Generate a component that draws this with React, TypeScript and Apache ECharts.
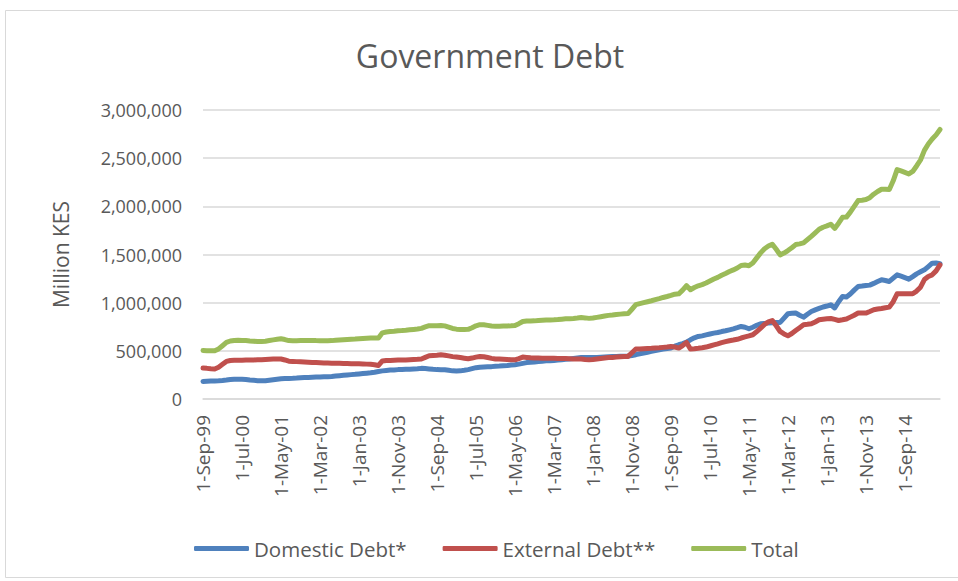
import React, { useEffect, useRef } from "react";
import * as echarts from "echarts";

// Monthly values, billions of KES (plotted in million KES), Sep-1999 .. Jun-2015
const domestic = [
  182, 184, 186, 188, 190, 193, 197, 202, 205, 206,
  205, 203, 198, 194, 190, 189, 190, 195, 200, 205,
  210, 212, 214, 215, 217, 220, 222, 224, 226, 228,
  228, 230, 232, 234, 238, 242, 246, 250, 253, 256,
  260, 264, 268, 272, 278, 286, 292, 296, 300, 302,
  305, 306, 308, 310, 312, 314, 318, 316, 312, 308,
  305, 304, 304, 298, 292, 290, 292, 298, 305, 315,
  325, 330, 332, 334, 336, 340, 342, 345, 348, 352,
  356, 362, 370, 378, 382, 385, 390, 393, 396, 398,
  400, 404, 408, 412, 415, 420, 425, 430, 432, 430,
  430, 432, 434, 436, 438, 440, 442, 443, 444, 445,
  452, 460, 470, 478, 486, 494, 502, 510, 518, 524,
  530, 548, 563, 575, 590, 615, 635, 649, 655, 665,
  675, 684, 690, 700, 708, 718, 728, 740, 753, 745,
  729, 745, 765, 781, 785, 788, 792, 794, 795, 840,
  885, 890, 892, 870, 850, 880, 908, 925, 940, 955,
  965, 978, 945, 1010, 1064, 1058, 1090, 1130, 1168, 1172,
  1178, 1182, 1200, 1220, 1237, 1230, 1220, 1255, 1289, 1275,
  1260, 1244, 1270, 1299, 1320, 1341, 1375, 1410, 1412, 1405,
];

const external = [
  321, 318, 314, 312, 330, 360, 390, 400, 402, 403,
  402, 404, 405, 406, 407, 408, 410, 412, 414, 415,
  415, 405, 392, 390, 388, 386, 384, 382, 380, 378,
  376, 374, 373, 372, 371, 370, 369, 368, 367, 366,
  365, 364, 362, 360, 356, 348, 395, 400, 400, 402,
  404, 405, 406, 408, 410, 412, 415, 432, 449, 452,
  455, 459, 455, 448, 440, 435, 430, 424, 418, 425,
  435, 442, 438, 430, 422, 415, 414, 412, 410, 408,
  407, 420, 435, 432, 428, 426, 425, 424, 423, 422,
  422, 421, 421, 420, 418, 416, 415, 415, 410, 407,
  410, 415, 420, 425, 430, 432, 435, 438, 440, 442,
  480, 519, 520, 522, 524, 526, 529, 532, 536, 540,
  545, 540, 529, 555, 587, 519, 522, 526, 532, 539,
  550, 562, 573, 585, 595, 605, 612, 620, 633, 645,
  655, 667, 700, 736, 775, 800, 815, 760, 701, 675,
  656, 680, 711, 740, 770, 775, 781, 800, 822, 828,
  832, 836, 826, 815, 822, 830, 850, 870, 892, 892,
  892, 908, 926, 934, 940, 948, 954, 1010, 1092, 1092,
  1092, 1092, 1092, 1120, 1161, 1240, 1272, 1289, 1330, 1393,
];

const total = [
  503, 502, 500, 500, 520, 553, 587, 602, 607, 609,
  607, 607, 603, 600, 597, 597, 600, 607, 614, 620,
  625, 617, 606, 605, 605, 606, 606, 606, 606, 606,
  604, 604, 605, 606, 609, 612, 615, 618, 620, 622,
  625, 628, 630, 632, 634, 634, 687, 696, 700, 704,
  709, 711, 714, 718, 722, 726, 733, 748, 761, 760,
  760, 763, 759, 746, 732, 725, 722, 722, 723, 740,
  760, 772, 770, 764, 758, 755, 756, 757, 758, 760,
  763, 782, 805, 810, 810, 811, 815, 817, 819, 820,
  822, 825, 829, 832, 833, 836, 840, 845, 842, 837,
  840, 847, 854, 861, 868, 872, 877, 881, 884, 887,
  932, 979, 990, 1000, 1010, 1020, 1031, 1042, 1054, 1064,
  1075, 1088, 1092, 1130, 1177, 1134, 1157, 1175, 1187, 1204,
  1225, 1246, 1263, 1285, 1303, 1323, 1340, 1360, 1386, 1390,
  1384, 1412, 1465, 1517, 1560, 1588, 1607, 1554, 1496, 1515,
  1541, 1570, 1603, 1610, 1620, 1655, 1689, 1725, 1762, 1783,
  1797, 1814, 1771, 1825, 1886, 1888, 1940, 2000, 2060, 2064,
  2070, 2090, 2126, 2154, 2177, 2178, 2174, 2265, 2381, 2367,
  2352, 2336, 2362, 2419, 2481, 2581, 2647, 2699, 2742, 2798,
];

const monthNames = ["Jan", "Feb", "Mar", "Apr", "May", "Jun", "Jul", "Aug", "Sep", "Oct", "Nov", "Dec"];
const startYear = 1999;
const startMonth = 8; // September (0-based)

const categories: string[] = domestic.map((_, i) => {
  const m = startMonth + i;
  const y = startYear + Math.floor(m / 12);
  return `1-${monthNames[m % 12]}-${String(y % 100).padStart(2, "0")}`;
});

const seriesNames = ["Domestic Debt*", "External Debt**", "Total"];
const seriesColors = ["#4F81BD", "#C0504D", "#9BBB59"];
const toMillion = (arr: number[]) => arr.map((v) => v * 1000);

const FONT = "'Open Sans', sans-serif";
const TEXT = "#595959";

export default function App() {
  const ref = useRef<HTMLDivElement>(null);
  useEffect(() => {
    if (!ref.current) return;
    const chart = echarts.init(ref.current, undefined, { renderer: "svg" });
    const data = [domestic, external, total];
    chart.setOption({
      animation: false,
      graphic: [
        {
          type: "rect",
          shape: { x: 5.5, y: 10.5, width: 960, height: 567 },
          style: { fill: "none", stroke: "#d9d9d9", lineWidth: 1 },
          silent: true,
        },
        {
          type: "text",
          x: 490,
          y: 55,
          style: {
            text: "Government Debt",
            fontFamily: FONT,
            fontSize: 32,
            fill: TEXT,
            textAlign: "center",
            textVerticalAlign: "middle",
          },
        },
      ],
      grid: { left: 203, right: 18, top: 110, bottom: 182, containLabel: false },
      legend: {
        left: 189,
        top: 533,
        itemWidth: 55,
        itemHeight: 5,
        itemGap: 36,
        icon: "roundRect",
        textStyle: { fontFamily: FONT, fontSize: 20.5, color: TEXT },
        data: seriesNames,
      },
      xAxis: {
        type: "category",
        data: categories,
        boundaryGap: false,
        axisLine: { show: true, lineStyle: { color: "#d9d9d9", width: 1.5 } },
        axisTick: { show: false },
        axisLabel: {
          interval: 9,
          rotate: 90,
          margin: 16,
          fontFamily: FONT,
          fontSize: 19,
          color: TEXT,
        },
      },
      yAxis: {
        type: "value",
        min: 0,
        max: 3000000,
        interval: 500000,
        name: "Million KES",
        nameLocation: "middle",
        nameGap: 132,
        nameTextStyle: { fontFamily: FONT, fontSize: 21, color: TEXT },
        axisLine: { show: false },
        axisTick: { show: false },
        splitLine: { lineStyle: { color: "#d9d9d9", width: 1.5 } },
        axisLabel: {
          margin: 21,
          fontFamily: FONT,
          fontSize: 18,
          color: TEXT,
          formatter: (v: number) => v.toLocaleString("en-US"),
        },
      },
      series: seriesNames.map((name, i) => ({
        name,
        type: "line",
        data: toMillion(data[i]),
        showSymbol: false,
        symbol: "none",
        color: seriesColors[i],
        lineStyle: { width: 5, color: seriesColors[i], cap: "round", join: "round" },
        emphasis: { disabled: true },
      })),
    });
    return () => chart.dispose();
  }, []);
  return (
    <div
      ref={ref}
      style={{ position: "absolute", left: 0, top: 0, width: 958, height: 581, background: "#fff" }}
    />
  );
}
